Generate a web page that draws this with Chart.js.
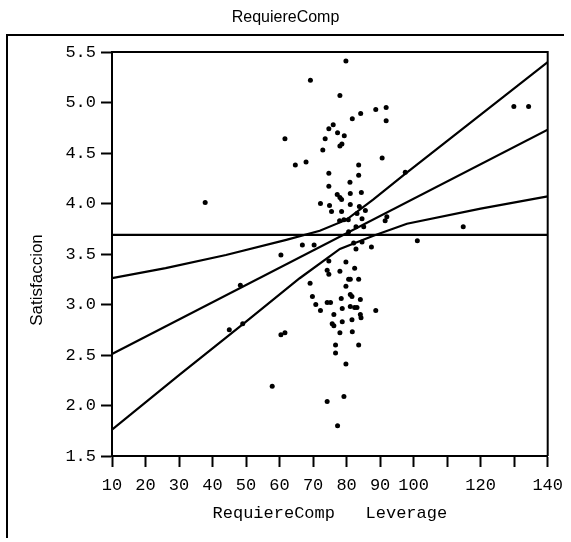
<!DOCTYPE html>
<html>
<head>
<meta charset="utf-8">
<script src="https://cdn.jsdelivr.net/npm/chart.js@4/dist/chart.umd.min.js"></script>
<style>
html,body{margin:0;padding:0;background:#ffffff;}
#wrap{width:571px;height:542px;position:relative;}
</style>
</head>
<body>
<div id="wrap"><canvas id="c" width="571" height="542"></canvas></div>
<script>
// ---- Data ----
const chartTitle = 'RequiereComp';
const xTitle = 'RequiereComp   Leverage';
const yTitle = 'Satisfaccion';

const xTickValues = [10,20,30,40,50,60,70,80,90,100,110,120,130,140];
const xTickLabels = ['10','20','30','40','50','60','70','80','90','100','','120','','140'];
const yTickValues = [1.5,2.0,2.5,3.0,3.5,4.0,4.5,5.0,5.5];
const yTickLabels = ['1.5','2.0','2.5','3.0','3.5','4.0','4.5','5.0','5.5'];

const pointX = [79.8,69.2,78.0,88.7,91.8,84.2,81.7,91.8,76.0,74.7,77.3,79.3,61.6,73.6,78.6,78.0,72.9,90.6,64.7,67.9,
  83.6,74.7,83.6,81.0,74.7,97.5,77.2,78.0,78.5,81.1,84.4,72.2,74.9,81.1,83.8,75.5,78.5,85.6,83.1,77.9,
  79.2,80.5,84.6,92.0,91.5,82.8,85.1,80.6,66.8,70.3,60.4,82.1,84.6,82.8,87.4,101.1,74.7,79.8,74.2,74.7,
  78.0,82.4,80.6,81.1,83.6,69.1,79.8,69.8,81.1,81.6,78.4,84.1,70.8,74.2,75.2,81.1,82.4,83.1,78.7,72.2,
  88.7,76.2,84.1,84.3,81.6,78.7,75.7,76.2,61.6,60.4,78.0,81.7,76.7,83.6,76.7,79.8,57.8,79.2,74.2,77.3,
  37.8,48.3,45.0,49.0,129.9,134.3,114.8];
const pointY = [5.41,5.22,5.07,4.93,4.95,4.89,4.84,4.82,4.78,4.74,4.70,4.67,4.64,4.64,4.59,4.57,4.53,4.45,4.38,4.41,
  4.38,4.30,4.28,4.21,4.17,4.31,4.09,4.06,4.04,4.10,4.11,4.00,3.98,3.99,3.97,3.92,3.92,3.93,3.90,3.83,
  3.84,3.84,3.85,3.87,3.83,3.77,3.77,3.72,3.59,3.59,3.49,3.61,3.62,3.55,3.57,3.63,3.43,3.42,3.34,3.30,
  3.33,3.36,3.25,3.25,3.25,3.21,3.18,3.08,3.10,3.08,3.06,3.05,3.00,3.02,3.02,2.98,2.97,2.97,2.96,2.94,
  2.94,2.90,2.90,2.87,2.85,2.83,2.81,2.79,2.72,2.70,2.72,2.73,2.60,2.60,2.52,2.41,2.19,2.09,2.04,1.80,
  4.01,3.19,2.75,2.81,4.96,4.96,3.77];

const meanX = [10, 140];
const meanY = [3.69, 3.69];
const fitX = [10, 140];
const fitY = [2.51, 4.73];
const upperX = [10, 26, 44, 62, 72, 80, 88, 97, 140];
const upperY = [3.26, 3.36, 3.49, 3.64, 3.73, 3.84, 4.04, 4.28, 5.40];
const lowerX = [10, 30, 50, 66, 78, 88, 98, 120, 140];
const lowerY = [1.76, 2.30, 2.83, 3.26, 3.55, 3.68, 3.80, 3.95, 4.07];

// ---- Build datasets ----
const zip = (xs, ys) => xs.map((x, i) => ({x: x, y: ys[i]}));
const lineStyle = {showLine: true, pointRadius: 0, borderColor: '#000', borderWidth: 2.2, fill: false, tension: 0};

const monoFont = 'Liberation Mono';
const sansFont = 'Liberation Sans';

const framePlugin = {
  id: 'frames',
  afterLayout(chart) {
    const s = chart.scales.y;
    if (s && !s._shifted) {
      const orig = s.drawTitle;
      s.drawTitle = function() {
        const ctx = this.ctx;
        ctx.save();
        ctx.translate(0, 26);
        orig.apply(this, arguments);
        ctx.restore();
      };
      s._shifted = true;
    }
  },
  afterDraw(chart) {
    const ctx = chart.ctx;
    const a = chart.chartArea;
    ctx.save();
    ctx.strokeStyle = '#000';
    ctx.lineWidth = 2;
    // top and right of plot frame
    ctx.beginPath();
    ctx.moveTo(a.left, a.top);
    ctx.lineTo(a.right, a.top);
    ctx.lineTo(a.right, a.bottom);
    ctx.stroke();
    // outer panel frame (left and top edges)
    ctx.beginPath();
    ctx.moveTo(7, 538);
    ctx.lineTo(7, 35);
    ctx.lineTo(564, 35);
    ctx.stroke();
    ctx.restore();
  }
};

new Chart(document.getElementById('c'), {
  type: 'scatter',
  data: {
    datasets: [
      Object.assign({label: 'Mean', data: zip(meanX, meanY)}, lineStyle),
      Object.assign({label: 'Upper', data: zip(upperX, upperY)}, lineStyle),
      Object.assign({label: 'Fit', data: zip(fitX, fitY)}, lineStyle),
      Object.assign({label: 'Lower', data: zip(lowerX, lowerY)}, lineStyle),
      {label: 'Points', data: zip(pointX, pointY), pointStyle: 'circle', pointRadius: 2.5,
       backgroundColor: '#000', borderWidth: 0, showLine: false}
    ]
  },
  options: {
    responsive: false,
    animation: false,
    devicePixelRatio: 1,
    layout: {padding: {left: 0, right: 0, top: 0, bottom: 0}},
    plugins: {
      legend: {display: false},
      tooltip: {enabled: false},
      title: {
        display: true, text: chartTitle, color: '#000',
        font: {family: sansFont, size: 16, weight: 'normal'},
        padding: {top: 8, bottom: 24.8}
      }
    },
    scales: {
      x: {
        type: 'linear', min: 10, max: 140,
        afterFit(s) { s.height = 86; },
        afterBuildTicks(s) { s.ticks = xTickValues.map(v => ({value: v})); },
        ticks: {
          color: '#000', padding: 8, maxRotation: 0, autoSkip: false,
          font: {family: monoFont, size: 17},
          callback: (v) => { const i = xTickValues.indexOf(v); return i >= 0 ? xTickLabels[i] : ''; }
        },
        grid: {display: true, drawOnChartArea: false, drawTicks: true, tickLength: 11, tickWidth: 2, tickColor: '#000'},
        border: {display: true, color: '#000', width: 2},
        title: {display: true, text: xTitle, color: '#000', font: {family: monoFont, size: 17}, padding: {top: 0, bottom: 18.8}}
      },
      y: {
        type: 'linear', min: 1.5, max: 5.5,
        afterFit(s) { s.width = 112; },
        afterBuildTicks(s) { s.ticks = yTickValues.map(v => ({value: v})); },
        ticks: {
          color: '#000', padding: 5, autoSkip: false,
          font: {family: monoFont, size: 17},
          callback: (v) => { const i = yTickValues.findIndex(t => Math.abs(t - v) < 1e-9); return i >= 0 ? yTickLabels[i] : ''; }
        },
        grid: {display: true, drawOnChartArea: false, drawTicks: true, tickLength: 11, tickWidth: 2, tickColor: '#000'},
        border: {display: true, color: '#000', width: 2},
        title: {display: true, text: yTitle, color: '#000', font: {family: sansFont, size: 17}, padding: {top: 27.3, bottom: 0}}
      },
      yRightSpace: {
        type: 'linear', position: 'right', display: true, min: 1.5, max: 5.5,
        afterFit(s) { s.width = 21; },
        ticks: {display: false},
        grid: {display: false, drawTicks: false},
        border: {display: false}
      }
    }
  },
  plugins: [framePlugin]
});
</script>
</body>
</html>
